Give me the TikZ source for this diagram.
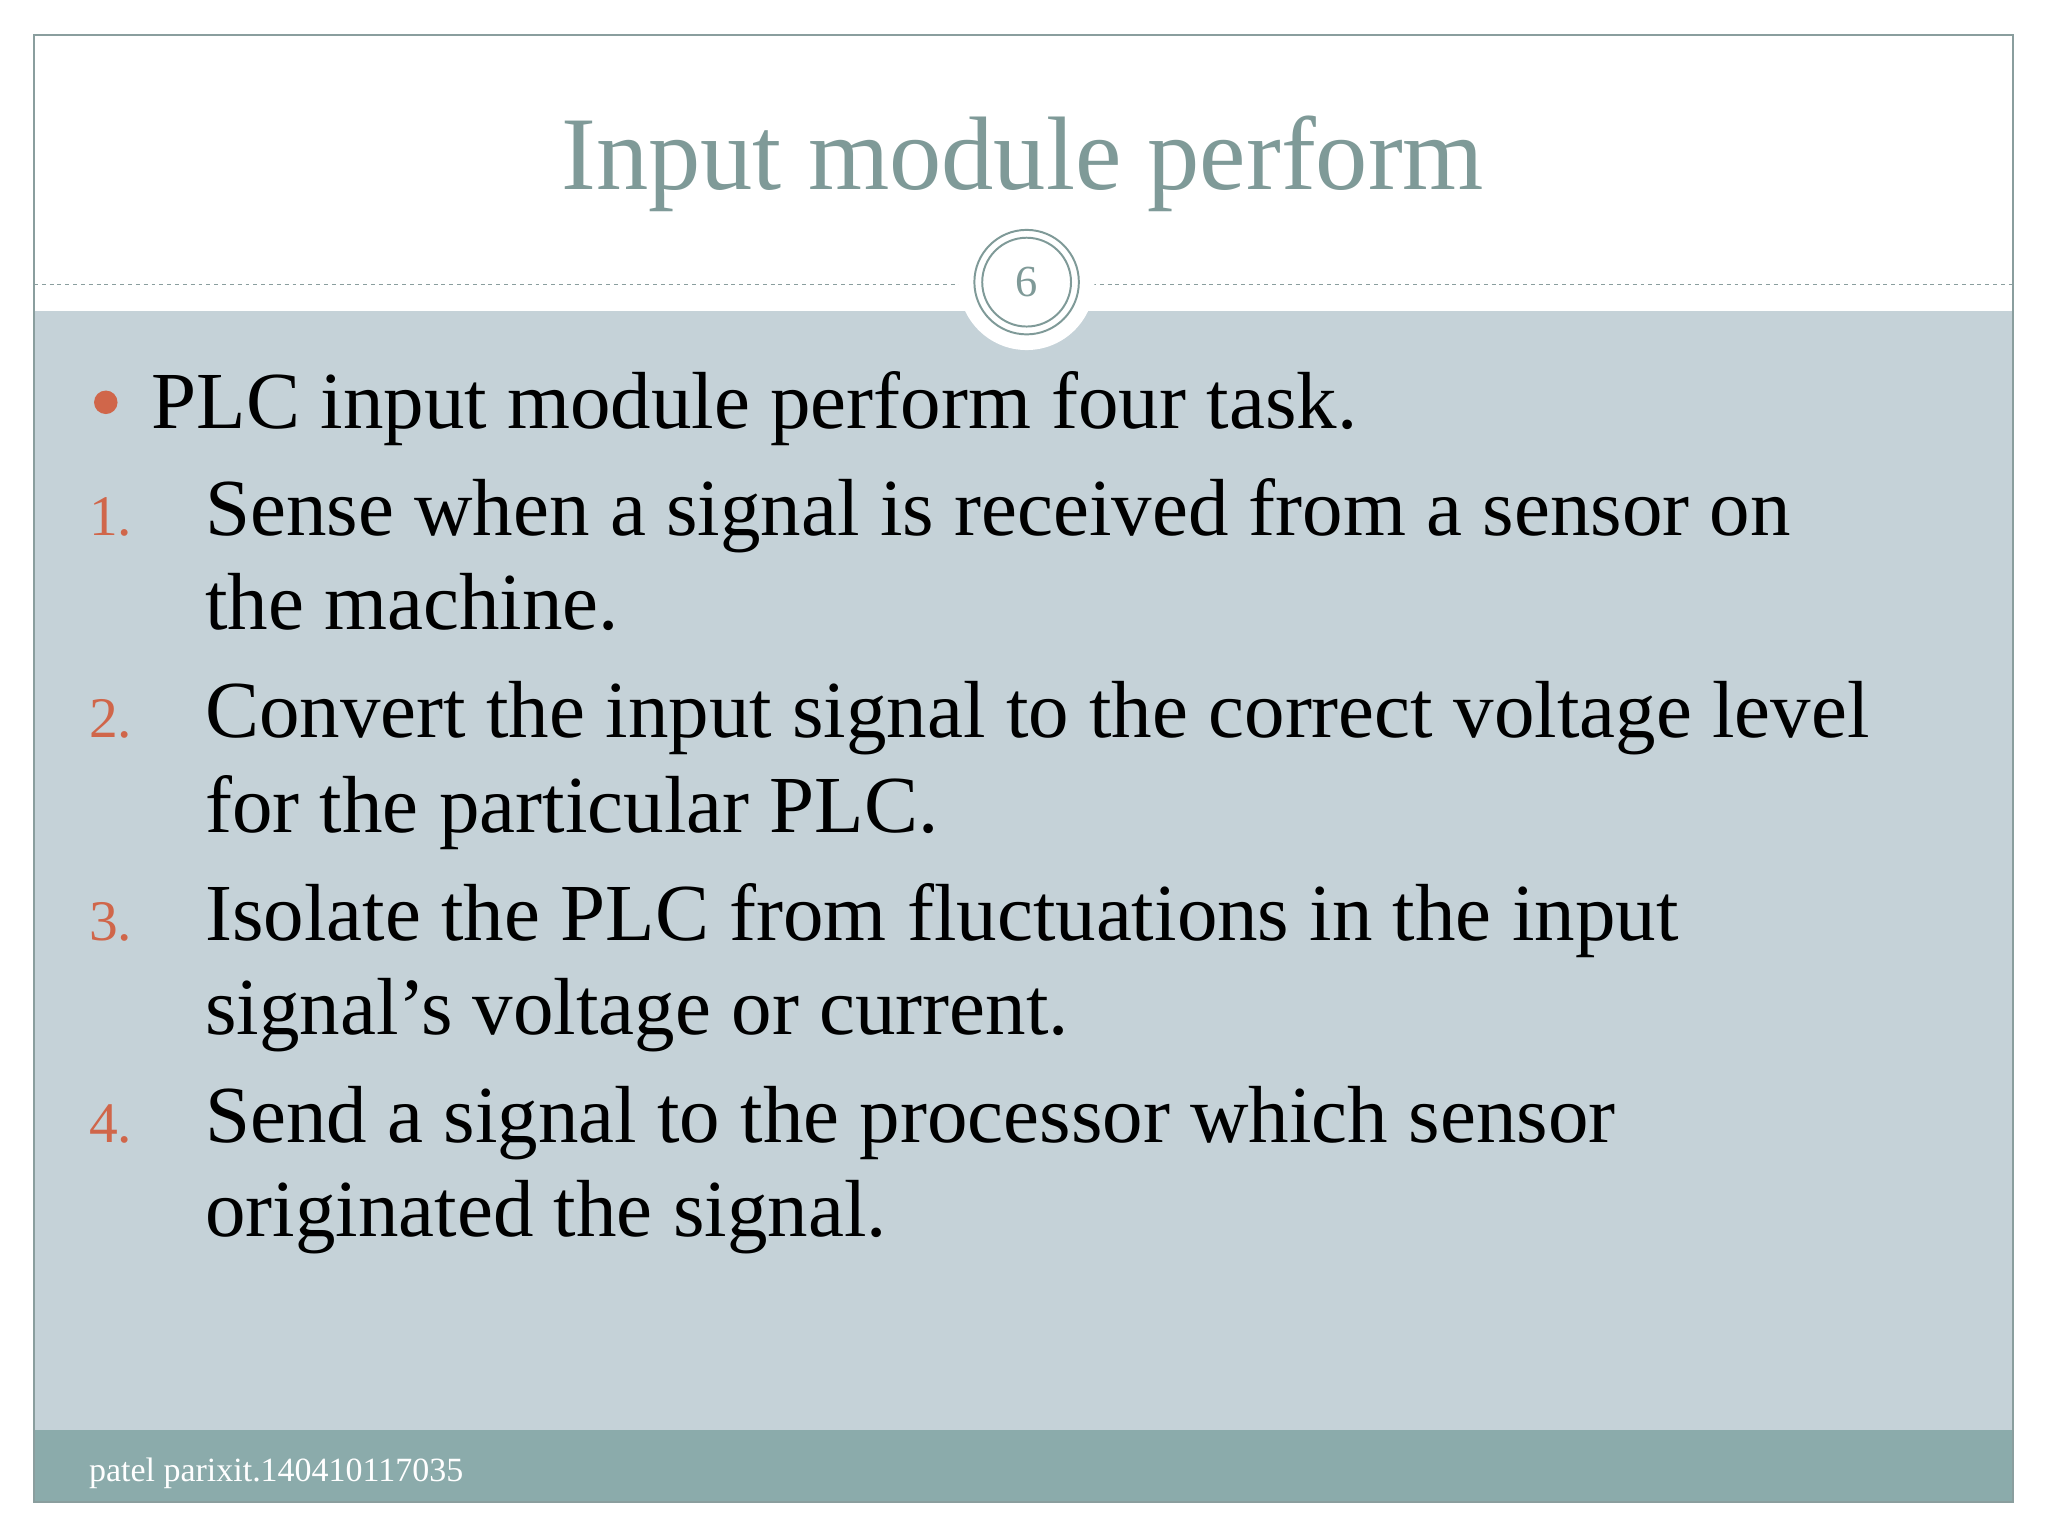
\documentclass[tikz,border=0pt]{standalone}
\usepackage{fontspec}
\setmainfont{Liberation Serif}
\definecolor{bodybg}{HTML}{C5D2D8}
\definecolor{footbg}{HTML}{8BABAB}
\definecolor{titlec}{HTML}{7F9A98}
\definecolor{numc}{HTML}{D0664A}
\definecolor{framec}{HTML}{8A9E9E}
\begin{document}
\begin{tikzpicture}[x=1pt,y=-1pt,
  body/.style={anchor=base west,inner sep=0pt,font=\fontsize{62}{70}\selectfont,text=black},
  num/.style={anchor=base west,inner sep=0pt,font=\fontsize{44}{50}\selectfont,text=numc}]
\useasboundingbox (0,0) rectangle (1568,1176);
\fill[white] (0,0) rectangle (1568,1176);
\fill[bodybg] (26,238) rectangle (1541,1095);
\fill[footbg] (26,1095) rectangle (1541,1150);
\draw[framec,line width=1.2] (26,27) rectangle (1541,1150);
\draw[framec,dashed,line width=0.8] (26,218) -- (1541,218);
\fill[white] (786,216) circle (52);
\draw[titlec,line width=1.5,fill=white] (786,216) circle (40);
\draw[titlec,line width=1.5] (786,216) circle (34);
\node[inner sep=0pt,font=\fontsize{34}{34}\selectfont,text=titlec] (pg) at (786,216) {6};
\node[inner sep=0pt,font=\fontsize{80}{80}\selectfont,text=titlec,anchor=base] (title) at (783,145) {Input module perform};
\fill[numc] (81,308) circle (9);
\node[body] (b0) at (116,328) {PLC input module perform four task.};
\node[num] (n1) at (68,410) {1.};
\node[body] (t1) at (157,410) {Sense when a signal is received from a sensor on};
\node[body] (t1b) at (157,482) {the machine.};
\node[num] (n2) at (68,565) {2.};
\node[body] (t2) at (157,565) {Convert the input signal to the correct voltage level};
\node[body] (t2b) at (157,637) {for the particular PLC.};
\node[num] (n3) at (68,720) {3.};
\node[body] (t3) at (157,720) {Isolate the PLC from fluctuations in the input};
\node[body] (t3b) at (157,792) {signal’s voltage or current.};
\node[num] (n4) at (68,875) {4.};
\node[body] (t4) at (157,875) {Send a signal to the processor which sensor};
\node[body] (t4b) at (157,947) {originated the signal.};
\node[anchor=base west,inner sep=0pt,font=\fontsize{26}{26}\selectfont,text=white] (foot) at (68,1134) {patel parixit.140410117035};
\end{tikzpicture}
\end{document}
